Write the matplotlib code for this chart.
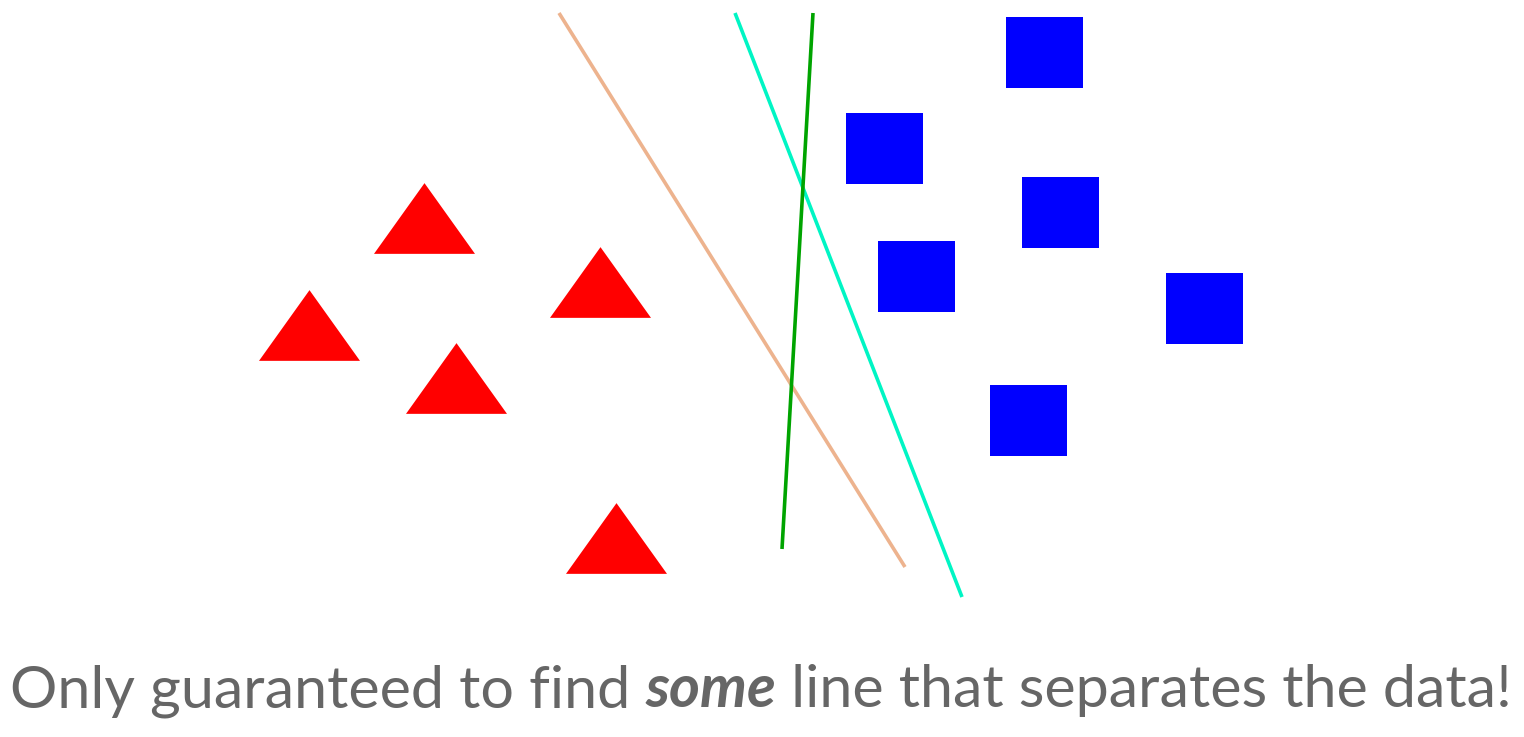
import matplotlib
matplotlib.use("Agg")
import matplotlib.pyplot as plt
from matplotlib.path import Path

# ---- data (pixel coordinates, y downward) ----
tri_x = [424.0, 309.0, 456.0, 600.0, 616.0]
tri_y = [217.5, 325.0, 377.5, 281.5, 537.5]
sq_x = [1044.0, 884.0, 1060.0, 916.0, 1204.0, 1028.0]
sq_y = [51.5, 147.5, 211.5, 275.5, 307.5, 419.5]

line_names = ["tan", "cyan", "green"]
line_x0 = [559, 735, 813]
line_y0 = [13, 13, 13]
line_x1 = [905, 962, 782]
line_y1 = [567, 597, 549]
line_colors = ["#EDB38E", "#00F5C4", "#00A400"]

caption_parts = ["Only guaranteed to find ", "some", " line that separates the data!"]

W, H = 1524, 737
DPI = 100
fig = plt.figure(figsize=(W / DPI, H / DPI), dpi=DPI)
ax = fig.add_axes([0, 0, 1, 1])
ax.set_xlim(0, W)
ax.set_ylim(H, 0)
ax.axis("off")

for x0, y0, x1, y1, c in zip(line_x0, line_y0, line_x1, line_y1, line_colors):
    ax.plot([x0, x1], [y0, y1], color=c, lw=2.6, solid_capstyle="butt", zorder=2)

tri_path = Path([(0, 0.35), (-0.5, -0.35), (0.5, -0.35), (0, 0.35)],
                [Path.MOVETO, Path.LINETO, Path.LINETO, Path.CLOSEPOLY])
hr = 0.5 * 71 / 77
rect_path = Path([(-0.5, -hr), (0.5, -hr), (0.5, hr), (-0.5, hr), (-0.5, -hr)],
                 [Path.MOVETO, Path.LINETO, Path.LINETO, Path.LINETO, Path.CLOSEPOLY])
px2pt = 72.0 / DPI
ax.plot(tri_x, tri_y, linestyle="none", marker=tri_path, markersize=101 * px2pt,
        markerfacecolor="#FF0000", markeredgewidth=0, zorder=3)
ax.plot(sq_x, sq_y, linestyle="none", marker=rect_path, markersize=77 * px2pt,
        markerfacecolor="#0000FF", markeredgewidth=0, zorder=3)

# ---- caption with bold-italic "some", scaled to span the reference width ----
fam = ["Lato", "DejaVu Sans"]
color = "#666666"
styles = [dict(weight="normal", style="normal"),
          dict(weight="bold", style="italic"),
          dict(weight="normal", style="normal")]

def draw_caption(size):
    texts = []
    fig.canvas.draw()
    r = fig.canvas.get_renderer()
    x = 10
    for part, st in zip(caption_parts, styles):
        t = fig.text(x / W, 1 - 707 / H, part, fontsize=size, family=fam, color=color,
                     ha="left", va="baseline", **st)
        bb = t.get_window_extent(renderer=r)
        x = x + bb.width
        texts.append(t)
    return texts, x

texts, xend = draw_caption(40)
total = xend - 10
size = 40 * (1505 / total)
for t in texts:
    t.remove()
texts, xend = draw_caption(size)

fig.savefig("out.png", dpi=DPI)
